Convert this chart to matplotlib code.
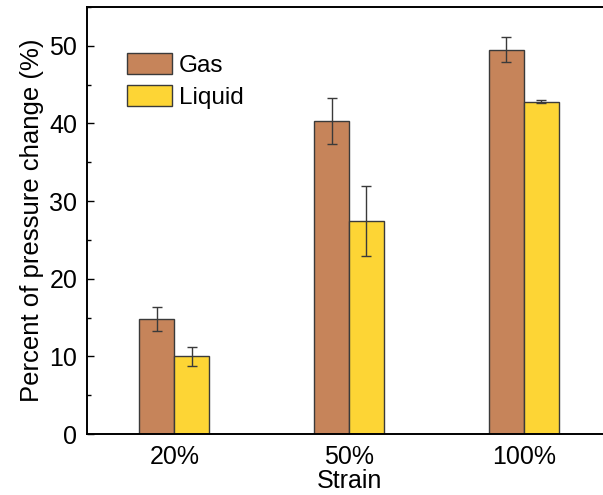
import matplotlib
matplotlib.use('Agg')
import matplotlib.pyplot as plt
from matplotlib.ticker import MultipleLocator
import numpy as np

plt.rcParams['font.family'] = ['Liberation Sans', 'DejaVu Sans']

# данные
strains = ['20%', '50%', '100%']
gas = [14.8, 40.3, 49.5]
gas_err = [1.5, 3.0, 1.6]
liquid = [10.0, 27.4, 42.8]
liquid_err = [1.2, 4.5, 0.2]

gas_color = '#C6845A'
liquid_color = '#FDD535'
edge = '#3a3a3a'

fig = plt.figure(figsize=(6.03, 4.95), dpi=100)
ax = fig.add_axes([0.1443, 0.1232, 0.869, 0.8627])

x = np.arange(1, len(strains) + 1)
w = 0.2
ebar = dict(ecolor=edge, elinewidth=1.0, capsize=3.5, capthick=1.0)

ax.bar(x - w / 2, gas, w, yerr=gas_err, color=gas_color, edgecolor=edge,
       linewidth=1.0, label='Gas', error_kw=ebar)
ax.bar(x + w / 2, liquid, w, yerr=liquid_err, color=liquid_color, edgecolor=edge,
       linewidth=1.0, label='Liquid', error_kw=ebar)

ax.set_xlim(0.5, 3.5)
ax.set_ylim(0, 55)
ax.set_xticks(x)
ax.set_xticklabels(strains)
ax.set_yticks([0, 10, 20, 30, 40, 50])
ax.yaxis.set_minor_locator(MultipleLocator(5))

ax.tick_params(axis='y', which='major', direction='in', length=5, width=1.0, pad=7, labelsize=18)
ax.tick_params(axis='y', which='minor', direction='in', length=3, width=1.0)
ax.tick_params(axis='x', length=0, pad=8, labelsize=18)

for s in ['left', 'bottom', 'top']:
    ax.spines[s].set_linewidth(1.4)
ax.spines['right'].set_visible(False)

ax.set_ylabel('Percent of pressure change (%)', fontsize=18.5, labelpad=4)
ax.set_xlabel('Strain', fontsize=18, labelpad=0)

ax.legend(loc='upper left', bbox_to_anchor=(0.057, 0.915), frameon=False,
          fontsize=17.5, handlelength=1.85, handleheight=0.95,
          handletextpad=0.3, labelspacing=0.35, borderaxespad=0)

plt.savefig('out.png', dpi=100)
